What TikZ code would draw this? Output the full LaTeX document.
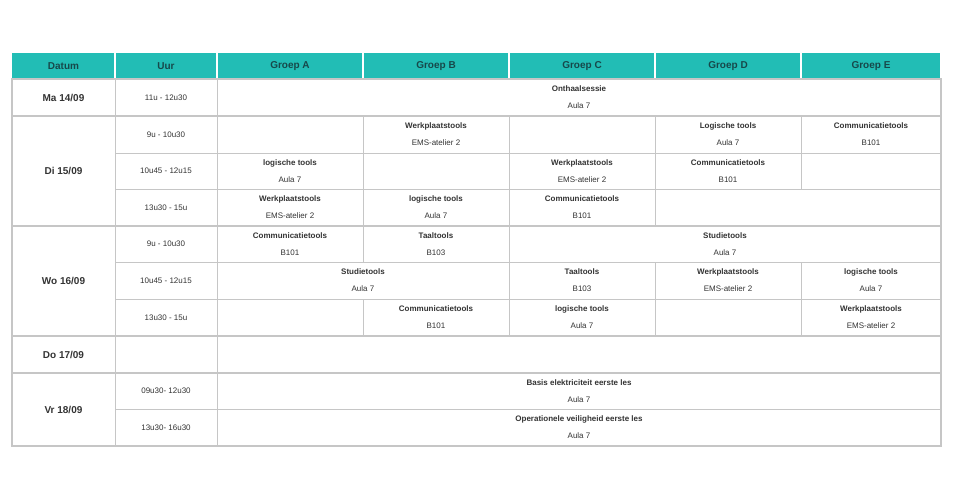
\documentclass[tikz,border=0pt]{standalone}
\usepackage{fontspec}
\setmainfont{Liberation Sans}
\definecolor{kop}{HTML}{22BDB5}
\definecolor{koptekst}{HTML}{17484A}
\definecolor{lijn}{HTML}{C6C6C6}
\definecolor{tekst}{HTML}{333333}
\begin{document}
\begin{tikzpicture}[
  x=1pt, y=-1pt,
  cel/.style = {draw=lijn, line width=0.8pt},
  blok/.style = {draw=lijn, line width=1.5pt},
  vak/.style = {font=\bfseries\fontsize{8}{9}\selectfont, text=tekst},
  lok/.style = {font=\fontsize{8}{9}\selectfont, text=tekst},
  kopje/.style = {font=\bfseries\fontsize{10}{11}\selectfont, text=koptekst}
  ]
	\useasboundingbox (0,0) rectangle (953,500);

	% kopregel
	\fill[kop] (12,53) rectangle (941,79);
	\foreach \xa/\xb/\t [count=\i] in {12/115/Datum, 115/217/Uur, 217/363/Groep A, 363/509/Groep B,
	    509/655/Groep C, 655/801/Groep D, 801/941/Groep E}{
	  \draw[white, line width=1.2pt] (\xb,53) -- (\xb,79);
	  \node[kopje] (kop\i) at ({(\xa+\xb)/2},66) {\t};
	}

	% cellen: x1/x2/y1/y2/vak/lokaal
	\foreach \xa/\xb/\ya/\yb/\v/\l [count=\i] in {
	  217/941/79/116/Onthaalsessie/Aula 7,
	  217/363/116/153/{}/{}, 363/509/116/153/Werkplaatstools/EMS-atelier 2, 509/655/116/153/{}/{},
	  655/801/116/153/Logische tools/Aula 7, 801/941/116/153/Communicatietools/B101,
	  217/363/153/189/logische tools/Aula 7, 363/509/153/189/{}/{}, 509/655/153/189/Werkplaatstools/EMS-atelier 2,
	  655/801/153/189/Communicatietools/B101, 801/941/153/189/{}/{},
	  217/363/189/226/Werkplaatstools/EMS-atelier 2, 363/509/189/226/logische tools/Aula 7,
	  509/655/189/226/Communicatietools/B101, 655/941/189/226/{}/{},
	  217/363/226/262/Communicatietools/B101, 363/509/226/262/Taaltools/B103, 509/941/226/262/Studietools/Aula 7,
	  217/509/262/299/Studietools/Aula 7, 509/655/262/299/Taaltools/B103,
	  655/801/262/299/Werkplaatstools/EMS-atelier 2, 801/941/262/299/logische tools/Aula 7,
	  217/363/299/336/{}/{}, 363/509/299/336/Communicatietools/B101, 509/655/299/336/logische tools/Aula 7,
	  655/801/299/336/{}/{}, 801/941/299/336/Werkplaatstools/EMS-atelier 2,
	  217/941/336/373/{}/{},
	  217/941/373/409/Basis elektriciteit eerste les/Aula 7,
	  217/941/409/446/Operationele veiligheid eerste les/Aula 7}{
	  \draw[cel] (\xa,\ya) rectangle (\xb,\yb);
	  \node[vak] (vak\i) at ({(\xa+\xb)/2},\ya+10) {\v};
	  \node[lok] (lok\i) at ({(\xa+\xb)/2},\ya+27) {\l};
	}

	% uren
	\foreach \ya/\yb/\u [count=\i] in {79/116/11u - 12u30, 116/153/9u - 10u30, 153/189/10u45 - 12u15,
	    189/226/13u30 - 15u, 226/262/9u - 10u30, 262/299/10u45 - 12u15, 299/336/13u30 - 15u,
	    336/373/{}, 373/409/09u30- 12u30, 409/446/13u30- 16u30}{
	  \draw[cel] (115,\ya) rectangle (217,\yb);
	  \node[lok] (uur\i) at (166,{(\ya+\yb)/2}) {\u};
	}

	% dagen
	\foreach \ya/\yb/\d [count=\i] in {79/116/{Ma 14/09}, 116/226/{Di 15/09}, 226/336/{Wo 16/09},
	    336/373/{Do 17/09}, 373/446/{Vr 18/09}}{
	  \draw[blok] (12,\ya) rectangle (941,\yb);
	  \draw[cel] (115,\ya) -- (115,\yb);
	  \node[vak, font=\bfseries\fontsize{10}{11}\selectfont] (dag\i) at (63.5,{(\ya+\yb)/2}) {\d};
	}
\end{tikzpicture}
\end{document}
